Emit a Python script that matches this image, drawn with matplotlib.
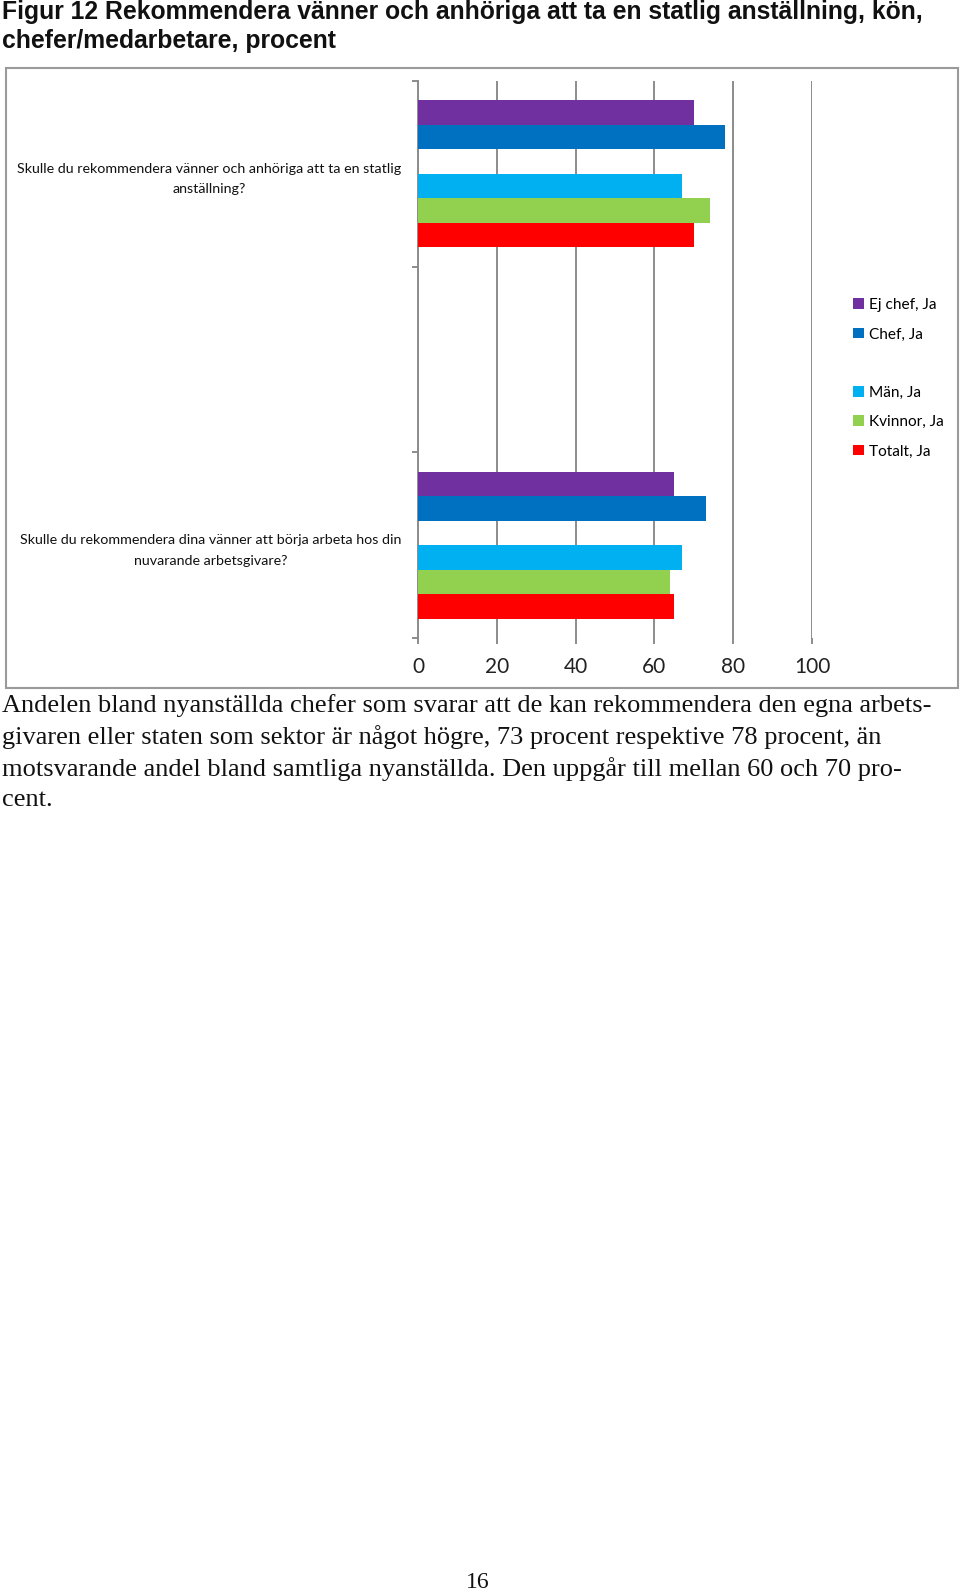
import matplotlib.pyplot as plt
from matplotlib.patches import Rectangle

# Data (percent "Ja")
categories = [
    "Skulle du rekommendera dina vänner att börja arbeta hos din\nnuvarande arbetsgivare?",
    "",
    "Skulle du rekommendera vänner och anhöriga att ta en statlig\nanställning?",
]
series_names = ["Totalt, Ja", "Kvinnor, Ja", "Män, Ja", " ", "Chef, Ja", "Ej chef, Ja"]
totalt = [65, 0, 70]
kvinnor = [64, 0, 74]
man = [67, 0, 67]
blank = [0, 0, 0]
chef = [73, 0, 78]
ej_chef = [65, 0, 70]
series_values = [totalt, kvinnor, man, blank, chef, ej_chef]
colors = ["#FF0000", "#92D050", "#00B0F0", "none", "#0070C0", "#7030A0"]
xticks = [0, 20, 40, 60, 80, 100]

title = ("Figur 12 Rekommendera vänner och anhöriga att ta en statlig anställning, kön,\n"
         "chefer/medarbetare, procent")
body = [
    "Andelen bland nyanställda chefer som svarar att de kan rekommendera den egna arbets-",
    "givaren eller staten som sektor är något högre, 73 procent respektive 78 procent, än",
    "motsvarande andel bland samtliga nyanställda. Den uppgår till mellan 60 och 70 pro-",
    "cent.",
]

W, H = 960, 1593
fig = plt.figure(figsize=(W / 100, H / 100), dpi=100)

# chart frame
fig.patches.append(Rectangle((6 / W, 1 - 688 / H), 952 / W, 620 / H, transform=fig.transFigure,
                             fill=False, edgecolor="#9a9a9a", linewidth=1.5))

ax = fig.add_axes([418 / W, 1 - 638 / H, 394 / W, 557 / H])

n = len(series_values)
group = 0.79
bh = group / n
ypos = list(range(len(categories)))
handles = []
for i, (vals, col, name) in enumerate(zip(series_values, colors, series_names)):
    off = -group / 2 + (i + 0.5) * bh
    b = ax.barh([y + off for y in ypos], vals, height=bh, color=col, label=name, zorder=3)
    handles.append(b)

ax.set_xlim(0, 100)
ax.set_ylim(-0.5, len(categories) - 0.5)
ax.set_xticks(xticks)
ax.set_xticklabels([str(t) for t in xticks], fontsize=15, family="Lato", color="#222222")
ax.set_yticks(ypos)
ax.set_yticklabels(categories, fontsize=10.3, family="Lato", multialignment="center",
                   color="#111111", linespacing=1.85)
ax.set_yticks([y - 0.5 for y in range(len(categories) + 1)], minor=True)
ax.tick_params(axis="y", which="major", length=0, pad=12)
ax.tick_params(axis="y", which="minor", length=4, color="#8c8c8c", width=1.4)
ax.tick_params(axis="x", length=4, color="#8c8c8c", width=1.4, pad=10)
ax.grid(axis="x", color="#8c8c8c", linewidth=1.4, zorder=0)
for s in ["top", "right", "bottom"]:
    ax.spines[s].set_visible(False)
ax.spines["left"].set_color("#8c8c8c")
ax.spines["left"].set_linewidth(1.4)

leg = fig.legend(handles[::-1], series_names[::-1], loc="upper left",
                 bbox_to_anchor=(847 / W, 1 - 292 / H), frameon=False,
                 prop={"family": "Lato", "size": 11.1}, handlelength=0.7, handleheight=0.7,
                 handletextpad=0.35, labelspacing=0.99, borderaxespad=0)

fig.text(2 / W, 1 - 0 / H, title, ha="left", va="top", fontsize=17.8, fontweight="bold",
         family="Liberation Sans", linespacing=1.24, color="#111111")

for k, line in enumerate(body):
    fig.text(2 / W, 1 - (706 + k * 31.5) / H, line, ha="left", va="center", fontsize=19,
             family="Liberation Serif", color="#111111")

fig.text(478 / W, 1 - 1582 / H, "16", ha="center", va="center", fontsize=17,
         family="Liberation Serif", color="#111111")

fig.savefig("out.png", dpi=100)
